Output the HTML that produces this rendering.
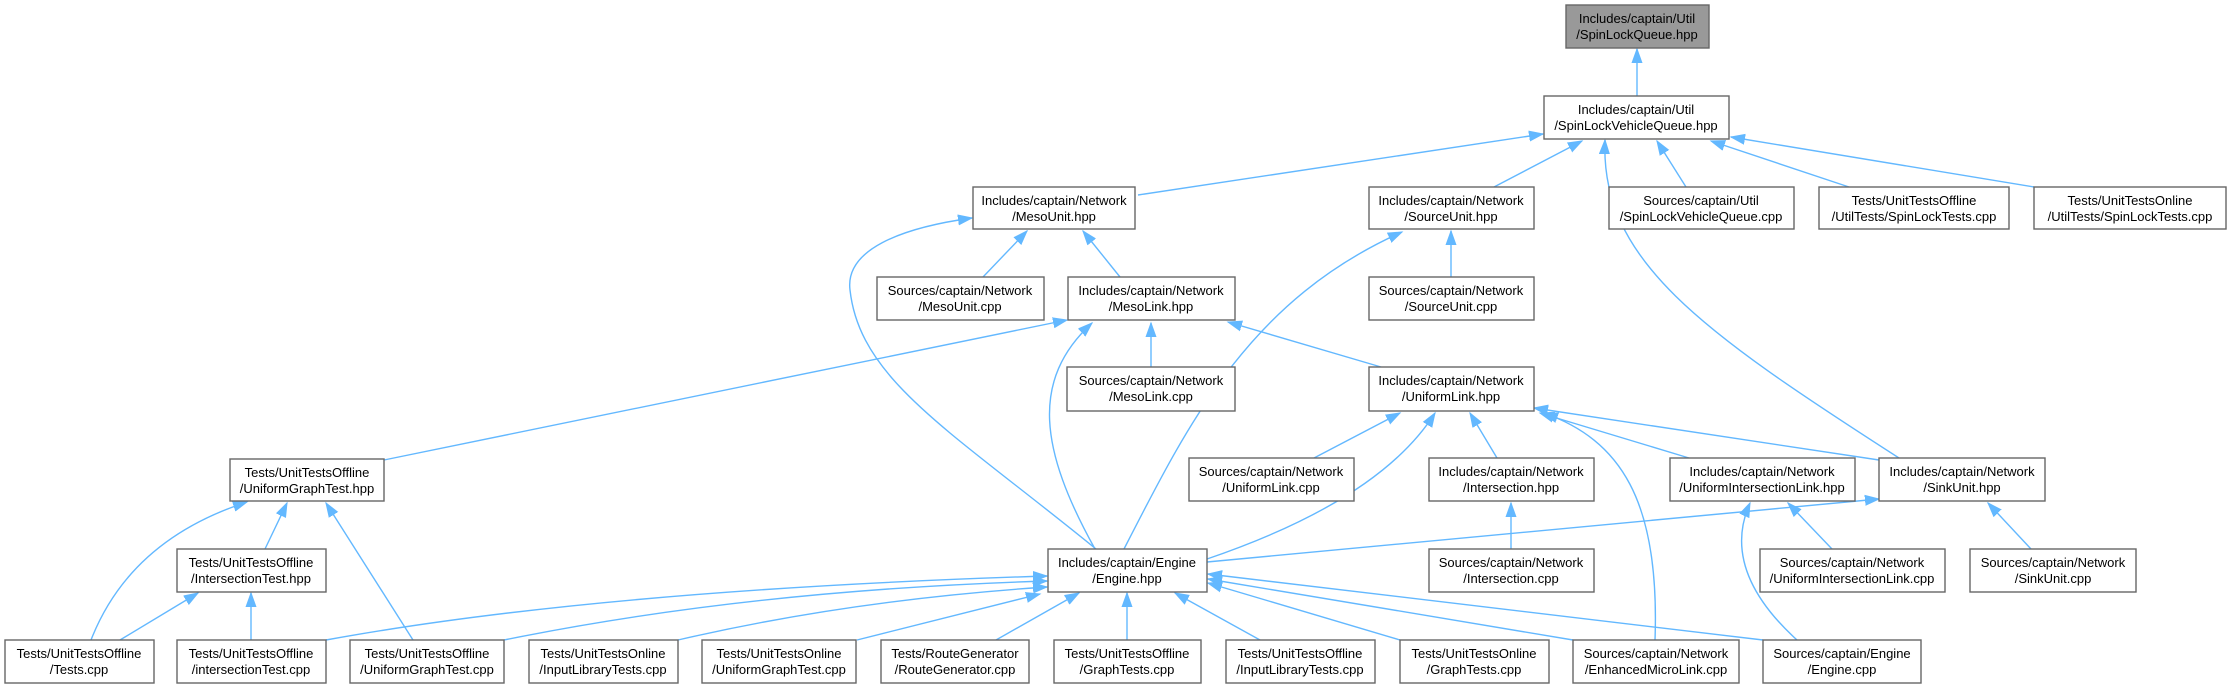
<!DOCTYPE html>
<html><head><meta charset="utf-8"><style>
body{margin:0;background:#fff;}
svg{display:block;}
text{font-family:"Liberation Sans",sans-serif;font-size:13px;fill:#000;text-anchor:middle;}
.n{fill:#fff;stroke:#666;stroke-width:1.4;}
.e{fill:none;stroke:#63b8ff;stroke-width:1.4;}
</style></head><body>
<svg width="2231" height="688" viewBox="0 0 2231 688" xmlns="http://www.w3.org/2000/svg">
<defs><marker id="a" markerUnits="userSpaceOnUse" markerWidth="16" markerHeight="12" refX="14" refY="6" orient="auto"><path d="M0,1 L14,6 L0,11 Z" fill="#63b8ff" stroke="#63b8ff"/></marker></defs>
<g class="e" marker-end="url(#a)">
<path d="M1637,96 L1637,49"/>
<path d="M1138,195 L1543,134"/>
<path d="M1494,187 L1582,141"/>
<path d="M1899,458 C1700,330 1600,260 1605,140"/>
<path d="M1686,187 L1657,141"/>
<path d="M1849,187 L1711,141"/>
<path d="M2034,187 L1731,137"/>
<path d="M983,277 L1027,231"/>
<path d="M1120,277 L1083,231"/>
<path d="M1096,549 C950,430 860,380 850,290 C845,250 900,228 972,218"/>
<path d="M1451,277 L1451,231"/>
<path d="M1124,549 C1190,420 1250,300 1402,232"/>
<path d="M1151,367 L1151,323"/>
<path d="M384,460 L1067,320"/>
<path d="M1095,549 C1040,450 1030,380 1092,323"/>
<path d="M1381,367 L1228,322"/>
<path d="M1314,458 L1400,413"/>
<path d="M1207,559 Q1380,500 1435,413"/>
<path d="M1497,458 L1470,413"/>
<path d="M1689,458 L1540,413"/>
<path d="M1879,460 L1534,408"/>
<path d="M1655,640 C1660,500 1620,440 1544,413"/>
<path d="M1511,549 L1511,503"/>
<path d="M1207,562 L1879,499"/>
<path d="M1832,549 L1788,503"/>
<path d="M1797,640 Q1720,570 1750,503"/>
<path d="M2031,549 L1988,503"/>
<path d="M91,640 Q130,540 247,502"/>
<path d="M265,549 L287,503"/>
<path d="M413,640 L326,503"/>
<path d="M120,640 L198,593"/>
<path d="M251,640 L251,593"/>
<path d="M326,640 Q600,590 1047,576"/>
<path d="M504,640 Q750,590 1047,581"/>
<path d="M678,640 Q850,600 1047,587"/>
<path d="M857,640 L1040,594"/>
<path d="M996,640 L1079,593"/>
<path d="M1127,640 L1127,593"/>
<path d="M1260,640 L1175,593"/>
<path d="M1400,640 L1208,583"/>
<path d="M1573,640 L1208,579"/>
<path d="M1763,640 L1208,574"/>
</g>
<g>
<rect x="1566" y="5" width="143" height="43" fill="#999" stroke="#666" stroke-width="1.4"/>
<text x="1637" y="23">Includes/captain/Util</text><text x="1637" y="39">/SpinLockQueue.hpp</text>

<rect class="n" x="1544" y="96" width="185" height="43"/>
<text x="1636" y="114">Includes/captain/Util</text><text x="1636" y="130">/SpinLockVehicleQueue.hpp</text>

<rect class="n" x="973" y="187" width="162" height="42"/>
<text x="1054" y="205">Includes/captain/Network</text><text x="1054" y="221">/MesoUnit.hpp</text>
<rect class="n" x="1369" y="187" width="165" height="42"/>
<text x="1451" y="205">Includes/captain/Network</text><text x="1451" y="221">/SourceUnit.hpp</text>
<rect class="n" x="1609" y="187" width="185" height="42"/>
<text x="1701" y="205">Sources/captain/Util</text><text x="1701" y="221">/SpinLockVehicleQueue.cpp</text>
<rect class="n" x="1819" y="187" width="190" height="42"/>
<text x="1914" y="205">Tests/UnitTestsOffline</text><text x="1914" y="221">/UtilTests/SpinLockTests.cpp</text>
<rect class="n" x="2034" y="187" width="192" height="42"/>
<text x="2130" y="205">Tests/UnitTestsOnline</text><text x="2130" y="221">/UtilTests/SpinLockTests.cpp</text>

<rect class="n" x="877" y="277" width="167" height="43"/>
<text x="960" y="295">Sources/captain/Network</text><text x="960" y="311">/MesoUnit.cpp</text>
<rect class="n" x="1068" y="277" width="167" height="43"/>
<text x="1151" y="295">Includes/captain/Network</text><text x="1151" y="311">/MesoLink.hpp</text>
<rect class="n" x="1369" y="277" width="165" height="43"/>
<text x="1451" y="295">Sources/captain/Network</text><text x="1451" y="311">/SourceUnit.cpp</text>

<rect class="n" x="1067" y="367" width="168" height="44"/>
<text x="1151" y="385">Sources/captain/Network</text><text x="1151" y="401">/MesoLink.cpp</text>
<rect class="n" x="1369" y="367" width="165" height="44"/>
<text x="1451" y="385">Includes/captain/Network</text><text x="1451" y="401">/UniformLink.hpp</text>

<rect class="n" x="230" y="459" width="154" height="42"/>
<text x="307" y="477">Tests/UnitTestsOffline</text><text x="307" y="493">/UniformGraphTest.hpp</text>
<rect class="n" x="1189" y="458" width="165" height="43"/>
<text x="1271" y="476">Sources/captain/Network</text><text x="1271" y="492">/UniformLink.cpp</text>
<rect class="n" x="1429" y="458" width="165" height="43"/>
<text x="1511" y="476">Includes/captain/Network</text><text x="1511" y="492">/Intersection.hpp</text>
<rect class="n" x="1670" y="458" width="185" height="43"/>
<text x="1762" y="476">Includes/captain/Network</text><text x="1762" y="492">/UniformIntersectionLink.hpp</text>
<rect class="n" x="1879" y="458" width="166" height="43"/>
<text x="1962" y="476">Includes/captain/Network</text><text x="1962" y="492">/SinkUnit.hpp</text>

<rect class="n" x="177" y="549" width="149" height="43"/>
<text x="251" y="567">Tests/UnitTestsOffline</text><text x="251" y="583">/IntersectionTest.hpp</text>
<rect class="n" x="1048" y="549" width="159" height="43"/>
<text x="1127" y="567">Includes/captain/Engine</text><text x="1127" y="583">/Engine.hpp</text>
<rect class="n" x="1429" y="549" width="165" height="43"/>
<text x="1511" y="567">Sources/captain/Network</text><text x="1511" y="583">/Intersection.cpp</text>
<rect class="n" x="1760" y="549" width="185" height="43"/>
<text x="1852" y="567">Sources/captain/Network</text><text x="1852" y="583">/UniformIntersectionLink.cpp</text>
<rect class="n" x="1970" y="549" width="166" height="43"/>
<text x="2053" y="567">Sources/captain/Network</text><text x="2053" y="583">/SinkUnit.cpp</text>

<rect class="n" x="5" y="640" width="149" height="43"/>
<text x="79" y="658">Tests/UnitTestsOffline</text><text x="79" y="674">/Tests.cpp</text>
<rect class="n" x="177" y="640" width="149" height="43"/>
<text x="251" y="658">Tests/UnitTestsOffline</text><text x="251" y="674">/intersectionTest.cpp</text>
<rect class="n" x="350" y="640" width="154" height="43"/>
<text x="427" y="658">Tests/UnitTestsOffline</text><text x="427" y="674">/UniformGraphTest.cpp</text>
<rect class="n" x="529" y="640" width="149" height="43"/>
<text x="603" y="658">Tests/UnitTestsOnline</text><text x="603" y="674">/InputLibraryTests.cpp</text>
<rect class="n" x="702" y="640" width="154" height="43"/>
<text x="779" y="658">Tests/UnitTestsOnline</text><text x="779" y="674">/UniformGraphTest.cpp</text>
<rect class="n" x="881" y="640" width="148" height="43"/>
<text x="955" y="658">Tests/RouteGenerator</text><text x="955" y="674">/RouteGenerator.cpp</text>
<rect class="n" x="1054" y="640" width="147" height="43"/>
<text x="1127" y="658">Tests/UnitTestsOffline</text><text x="1127" y="674">/GraphTests.cpp</text>
<rect class="n" x="1226" y="640" width="149" height="43"/>
<text x="1300" y="658">Tests/UnitTestsOffline</text><text x="1300" y="674">/InputLibraryTests.cpp</text>
<rect class="n" x="1400" y="640" width="149" height="43"/>
<text x="1474" y="658">Tests/UnitTestsOnline</text><text x="1474" y="674">/GraphTests.cpp</text>
<rect class="n" x="1573" y="640" width="166" height="43"/>
<text x="1656" y="658">Sources/captain/Network</text><text x="1656" y="674">/EnhancedMicroLink.cpp</text>
<rect class="n" x="1763" y="640" width="158" height="43"/>
<text x="1842" y="658">Sources/captain/Engine</text><text x="1842" y="674">/Engine.cpp</text>
</g>
</svg>
</body></html>
